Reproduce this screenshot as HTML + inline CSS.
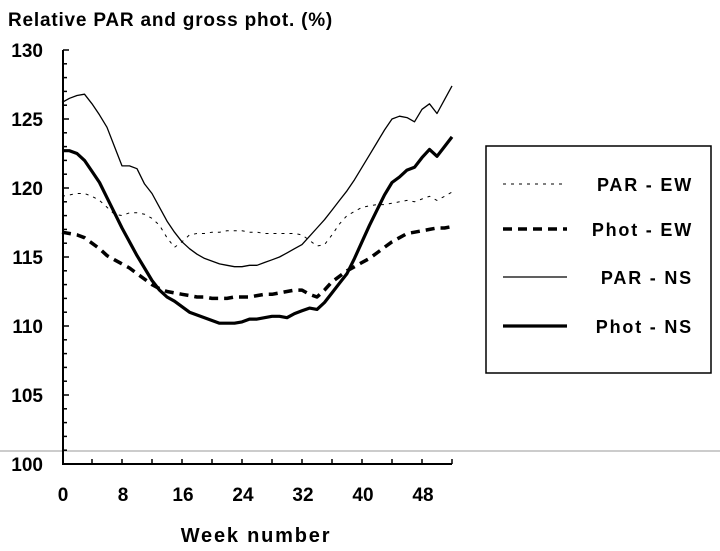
<!DOCTYPE html>
<html><head><meta charset="utf-8"><style>
body{margin:0;background:#fff;width:720px;height:546px;overflow:hidden}
svg text{font-family:"Liberation Sans",Arial,sans-serif;font-weight:bold;fill:#000}
</style></head><body>
<svg id="chart" width="720" height="546" viewBox="0 0 720 546" xmlns="http://www.w3.org/2000/svg">
<text x="8" y="26" font-size="19" letter-spacing="0.8">Relative PAR and gross phot. (%)</text>
<line x1="0" y1="451" x2="720" y2="451" stroke="#bbb" stroke-width="1.5"/>
<g id="axes"></g>
<g id="series"></g>
<text x="256" y="542" font-size="20" letter-spacing="1.8" text-anchor="middle">Week number</text>
<g>
<rect x="486" y="146" width="225" height="227" fill="#fff" stroke="#000" stroke-width="1.5"/>
<g><line x1="503" y1="184" x2="567" y2="184" stroke="#000" stroke-width="1" stroke-dasharray="3,5"/><text x="693" y="191" font-size="18" letter-spacing="1.8" text-anchor="end">PAR - EW</text></g>
<g><line x1="503" y1="229" x2="567" y2="229" stroke="#000" stroke-width="3.5" stroke-dasharray="9,6"/><text x="693" y="236" font-size="18" letter-spacing="1.8" text-anchor="end">Phot - EW</text></g>
<g><line x1="503" y1="277" x2="567" y2="277" stroke="#000" stroke-width="1.3"/><text x="693" y="284" font-size="18" letter-spacing="1.8" text-anchor="end">PAR - NS</text></g>
<g><line x1="503" y1="326" x2="567" y2="326" stroke="#000" stroke-width="3.2"/><text x="693" y="333" font-size="18" letter-spacing="1.8" text-anchor="end">Phot - NS</text></g>
</g>
</svg>
<script>
const weeks = Array.from({length:53},(_,i)=>i);
const parEW = [119.4,119.5,119.6,119.6,119.4,119.1,118.6,118.1,118.0,118.2,118.2,118.1,117.8,117.3,116.4,115.7,116.1,116.6,116.7,116.7,116.8,116.8,116.9,116.9,116.9,116.8,116.8,116.7,116.7,116.7,116.7,116.7,116.6,116.2,115.8,115.9,116.6,117.4,118.0,118.3,118.6,118.7,118.8,118.8,118.9,119.0,119.1,119.0,119.2,119.4,119.1,119.4,119.7];
const photEW = [116.8,116.7,116.6,116.4,116.0,115.6,115.1,114.8,114.5,114.2,113.8,113.4,113.0,112.7,112.5,112.4,112.3,112.2,112.1,112.1,112.0,112.0,112.0,112.1,112.1,112.1,112.2,112.3,112.3,112.4,112.5,112.6,112.6,112.3,112.1,112.6,113.2,113.6,114.0,114.3,114.6,114.9,115.3,115.7,116.1,116.4,116.7,116.8,116.9,117.0,117.1,117.1,117.2];
const parNS = [126.2,126.5,126.7,126.8,126.1,125.3,124.4,123.0,121.6,121.6,121.4,120.3,119.6,118.6,117.6,116.8,116.1,115.6,115.2,114.9,114.7,114.5,114.4,114.3,114.3,114.4,114.4,114.6,114.8,115.0,115.3,115.6,115.9,116.5,117.1,117.7,118.4,119.1,119.8,120.6,121.5,122.4,123.3,124.2,125.0,125.2,125.1,124.8,125.7,126.1,125.4,126.4,127.4];
const photNS = [122.7,122.7,122.5,122.0,121.2,120.4,119.3,118.2,117.1,116.1,115.1,114.2,113.3,112.6,112.1,111.8,111.4,111.0,110.8,110.6,110.4,110.2,110.2,110.2,110.3,110.5,110.5,110.6,110.7,110.7,110.6,110.9,111.1,111.3,111.2,111.7,112.4,113.1,113.8,114.9,116.1,117.3,118.4,119.5,120.4,120.8,121.3,121.5,122.2,122.8,122.3,123.0,123.7];
const yTicks = [100,105,110,115,120,125,130];
const xTicks = [0,8,16,24,32,40,48];
const NS='http://www.w3.org/2000/svg';
const X = w => 62 + w*7.5;
const Y = v => 464 - (v-100)*13.8;
const axes=document.getElementById('axes'), ser=document.getElementById('series');
function mk(tag,at,parent){const e=document.createElementNS(NS,tag);for(const k in at)e.setAttribute(k,at[k]);parent.appendChild(e);return e;}
const ya=mk('line',{x1:63,y1:Y(130),x2:63,y2:464,stroke:'#000','stroke-width':2},axes);


const xa=mk('line',{x1:62,y1:464,x2:452,y2:464,stroke:'#000','stroke-width':2},axes);


for(let v=100;v<=130;v++){const t=mk('line',{x1:63,y1:Y(v),x2:v%5?67:69,y2:Y(v),stroke:'#000','stroke-width':1.5},axes);

}
for(let w=4;w<=52;w+=4){const t=mk('line',{x1:X(w),y1:464,x2:X(w),y2:459,stroke:'#000','stroke-width':1.5},axes);

}
yTicks.forEach(v=>{const t=mk('text',{x:43,y:Y(v)+7,'font-size':19,'text-anchor':'end'},axes);t.textContent=v;

});
xTicks.forEach(w=>{const t=mk('text',{x:X(w)+1,y:501,'font-size':19,'text-anchor':'middle'},axes);t.textContent=w;

});
function line(vals,name,sw,dash){const d=vals.map((v,i)=>(i?'L':'M')+X(weeks[i]).toFixed(1)+' '+Y(v).toFixed(1)).join(' ');
const p=mk('path',{d:d,fill:'none',stroke:'#000','stroke-width':sw,'stroke-linejoin':'round'},ser);
if(dash)p.setAttribute('stroke-dasharray',dash);

}
line(parEW,'par-ew-line',1,'3,5');
line(photEW,'phot-ew-line',3.5,'9,6');
line(parNS,'par-ns-line',1.3,null);
line(photNS,'phot-ns-line',3.2,null);
</script>
</body></html>
